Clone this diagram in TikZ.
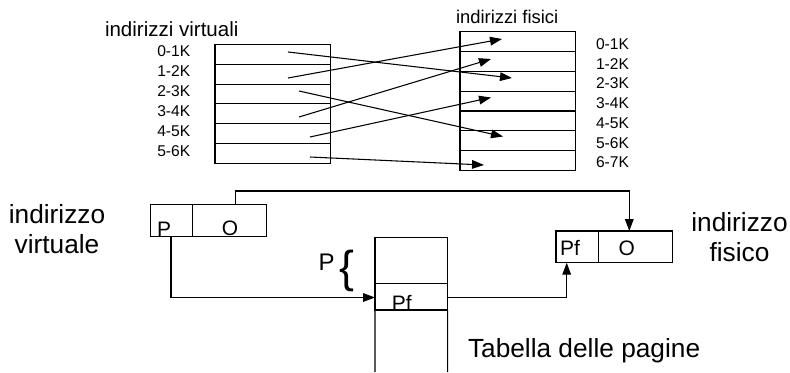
\documentclass[tikz,border=0pt]{standalone}
\usepackage{fontspec}
\setmainfont{Liberation Sans}
\usetikzlibrary{arrows.meta}
\newcommand{\setfsz}[1]{\fontsize{#1}{#1}\selectfont}
\begin{document}
\begin{tikzpicture}[x=0.75pt,y=-0.75pt,line width=0.8pt,
  cellbox/.style={draw,inner sep=0pt,outer sep=0pt,minimum width=#1},
  rowbox/.style={cellbox=86.8pt,minimum height=14.85pt},
  arr/.style={-{Triangle[length=9pt,width=6.5pt]}},
  txt/.style={inner sep=0pt,outer sep=0pt,anchor=base},
  rowlbl/.style={txt,anchor=base west,font=\setfsz{11.7pt}},
  biglbl/.style={txt,font=\setfsz{19.7pt}},
  boxlbl/.style={txt,font=\setfsz{15.7pt}}]
\useasboundingbox (0,0) rectangle (790,372);

% ---------- upper part: virtual and physical address spaces
\node[txt,anchor=base west,font=\setfsz{15.4pt}] (vtitle) at (105,36.5) {indirizzi virtuali};
\node[txt,anchor=base west,font=\setfsz{13.8pt}] (ptitle) at (456,23.3) {indirizzi fisici};

\foreach \i/\l in {0/0-1K,1/1-2K,2/2-3K,3/3-4K,4/4-5K,5/5-6K}{
  \node[rowbox] (v\i) at (272.85,54.4+19.8*\i) {};
  \node[rowlbl] (vl\i) at (157.3,56+20*\i) {\l};
}
\foreach \i/\l in {0/0-1K,1/1-2K,2/2-3K,3/3-4K,4/4-5K,5/5-6K,6/6-7K}{
  \node[rowbox] (p\i) at (517.85,41.7+19.8*\i) {};
  \node[rowlbl] (pl\i) at (596,49.5+19.7*\i) {\l};
}

\coordinate (s1) at (288,52);   \coordinate (e1) at (512,78);
\coordinate (s2) at (288,78);   \coordinate (e2) at (502,39);
\coordinate (s3) at (299,91);   \coordinate (e3) at (503,136.5);
\coordinate (s4) at (299,117);  \coordinate (e4) at (491,59);
\coordinate (s5) at (310,137);  \coordinate (e5) at (491,97.5);
\coordinate (s6) at (310,157);  \coordinate (e6) at (484,165);
\foreach \k in {1,...,6}{ \draw[arr] (s\k) -- (e\k); }

% ---------- lower part
\node[biglbl] (vaA) at (57,223) {indirizzo};
\node[biglbl] (vaB) at (57,253) {virtuale};
\node[biglbl] (paA) at (739.5,231.7) {indirizzo};
\node[biglbl] (paB) at (739.5,261.7) {fisico};
\node[txt,anchor=base west,font=\setfsz{19.7pt}] (ttl) at (468,357) {Tabella delle pagine};

% virtual address
\node[cellbox=31.5pt,minimum height=24.3pt] (vap) at (171.7,220.5) {};
\node[cellbox=55.5pt,minimum height=24.3pt] (vao) at (229.7,220.5) {};
\node[boxlbl] (vapt) at (164,236) {P};
\node[boxlbl] (vaot) at (230,235.5) {O};

% physical address
\node[cellbox=31.7pt,minimum height=23.8pt] (papf) at (577.15,246.85) {};
\node[cellbox=55.5pt,minimum height=23.8pt] (pao) at (635.3,246.85) {};
\node[boxlbl] (papft) at (570,255) {Pf};
\node[boxlbl] (paot) at (626.7,255) {O};

% page table
\node[cellbox=54.5pt,minimum height=34.5pt] (t0) at (411.35,260.5) {};
\node[cellbox=54.5pt,minimum height=19.9pt] (t1) at (411.35,296.75) {};
\node[boxlbl] (t1t) at (401.7,310) {Pf};
\coordinate (tbl) at (375,372);
\coordinate (tbr) at (447.7,372);
\draw (t1.south west) -- (tbl);
\draw (t1.south east) -- (tbr);

\node[txt,font=\setfsz{18pt}] (plbl) at (326.7,270.7) {P};
\node[inner sep=0pt,outer sep=0pt,font=\setfsz{33.5pt}] (brace) at (346.5,271) {\{};

% connectors
\coordinate (votop) at (235.7,204.3);
\coordinate (jog) at (0,191);
\coordinate (pain) at (629.3,231);
\draw[arr] (votop) -- (votop |- jog) -| (pain);

\coordinate (vpout) at (171,236.7);
\coordinate (tin) at (375,297.5);
\draw[arr] (vpout) |- (tin);

\coordinate (tout) at (447.7,297.5);
\coordinate (pfin) at (566.7,262.7);
\draw[arr] (tout) -| (pfin);
\end{tikzpicture}
\end{document}
